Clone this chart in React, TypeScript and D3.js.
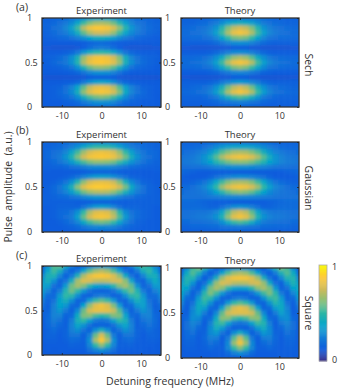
import React, { useEffect, useRef } from "react";
import * as d3 from "d3";

// detuning columns (MHz) and amplitude rows, top row first
const detuning = [-15, -13.5, -12, -10.5, -9, -7.5, -6, -4.5, -3, -1.5, 0, 1.5, 3, 4.5, 6, 7.5, 9, 10.5, 12, 13.5, 15];
const amplitude = [1, 0.944, 0.889, 0.833, 0.778, 0.722, 0.667, 0.611, 0.556, 0.5, 0.444, 0.389, 0.333, 0.278, 0.222, 0.167, 0.111, 0.056, 0];
const xTicks = [-10, 0, 10];
const yTicks = [0, 0.5, 1];
const parula = ["#352a87", "#0f5cdd", "#1481d6", "#06a4ca", "#2eb7a4", "#87bf77", "#d1bb59", "#fec832", "#f9fb0e"];

// values are percent of the colour range
const sechExperiment = [
  [20, 19, 20, 21, 22, 24, 27, 31, 35, 38, 39, 38, 35, 30, 27, 24, 22, 21, 20, 19, 20],
  [20, 20, 21, 23, 26, 31, 40, 51, 60, 65, 66, 64, 58, 48, 38, 30, 25, 23, 21, 20, 20],
  [20, 20, 23, 25, 30, 38, 52, 68, 78, 82, 82, 80, 74, 62, 48, 35, 28, 24, 22, 20, 20],
  [19, 20, 22, 24, 27, 33, 43, 56, 66, 71, 72, 70, 63, 52, 40, 31, 26, 23, 21, 20, 19],
  [18, 19, 20, 21, 22, 24, 28, 33, 39, 43, 44, 42, 37, 31, 26, 23, 21, 20, 19, 18, 18],
  [17, 17, 17, 17, 17, 17, 17, 18, 20, 21, 22, 21, 19, 18, 17, 17, 17, 17, 17, 17, 17],
  [16, 16, 15, 15, 15, 15, 16, 18, 22, 25, 26, 25, 22, 18, 16, 15, 15, 15, 15, 16, 16],
  [17, 18, 18, 18, 19, 21, 26, 35, 44, 49, 50, 48, 42, 33, 25, 21, 19, 18, 18, 18, 17],
  [18, 19, 20, 22, 25, 32, 45, 63, 74, 79, 80, 78, 72, 60, 43, 30, 24, 21, 20, 19, 18],
  [18, 19, 21, 23, 26, 33, 47, 66, 77, 81, 82, 80, 75, 63, 45, 32, 25, 22, 20, 19, 18],
  [18, 18, 19, 20, 22, 25, 33, 46, 57, 62, 63, 61, 55, 44, 32, 24, 21, 20, 19, 18, 18],
  [17, 17, 17, 17, 18, 19, 21, 25, 30, 33, 34, 33, 29, 24, 20, 18, 17, 17, 17, 17, 17],
  [16, 15, 15, 15, 15, 15, 15, 16, 17, 18, 18, 18, 17, 16, 15, 15, 15, 15, 15, 15, 16],
  [17, 17, 17, 17, 18, 19, 21, 26, 33, 38, 40, 38, 32, 25, 21, 19, 18, 17, 17, 17, 17],
  [18, 18, 19, 20, 23, 29, 40, 56, 69, 75, 77, 75, 68, 54, 38, 28, 23, 20, 19, 18, 18],
  [18, 18, 19, 21, 24, 31, 44, 62, 74, 79, 81, 79, 73, 60, 42, 30, 24, 21, 19, 18, 18],
  [17, 18, 19, 20, 22, 25, 32, 43, 53, 58, 60, 58, 52, 42, 31, 24, 21, 20, 19, 18, 17],
  [18, 18, 18, 18, 19, 20, 22, 26, 30, 33, 34, 33, 30, 25, 22, 20, 19, 18, 18, 18, 18],
  [18, 18, 18, 18, 18, 18, 19, 20, 21, 22, 22, 22, 21, 20, 19, 18, 18, 18, 18, 18, 18],
];

const gaussianExperiment = [
  [20, 20, 20, 21, 22, 23, 25, 27, 29, 30, 30, 30, 29, 27, 25, 23, 22, 21, 20, 20, 20],
  [20, 20, 21, 22, 24, 28, 33, 40, 46, 50, 50, 49, 45, 39, 32, 27, 24, 22, 21, 20, 20],
  [20, 21, 23, 25, 30, 40, 52, 64, 73, 77, 78, 77, 73, 63, 50, 38, 29, 25, 22, 21, 20],
  [20, 21, 24, 27, 34, 46, 60, 72, 79, 81, 82, 81, 78, 70, 58, 44, 33, 26, 23, 21, 20],
  [20, 20, 22, 25, 29, 36, 45, 53, 59, 62, 62, 61, 58, 51, 43, 34, 28, 24, 22, 20, 20],
  [19, 19, 20, 20, 21, 23, 25, 27, 30, 31, 31, 31, 29, 27, 24, 22, 21, 20, 19, 19, 19],
  [18, 18, 17, 17, 17, 17, 17, 18, 19, 20, 20, 20, 19, 18, 17, 17, 17, 17, 17, 18, 18],
  [17, 17, 17, 18, 19, 21, 24, 29, 34, 37, 38, 37, 33, 28, 23, 20, 19, 18, 17, 17, 17],
  [18, 18, 19, 21, 25, 33, 47, 62, 72, 76, 77, 76, 71, 60, 45, 31, 24, 20, 19, 18, 18],
  [18, 19, 21, 25, 32, 45, 62, 75, 81, 83, 83, 82, 79, 72, 59, 42, 30, 24, 20, 19, 18],
  [18, 19, 21, 24, 29, 37, 48, 58, 64, 67, 68, 67, 62, 55, 45, 35, 27, 23, 20, 19, 18],
  [19, 19, 20, 21, 22, 24, 26, 30, 33, 35, 35, 35, 32, 28, 25, 23, 21, 20, 19, 19, 19],
  [19, 19, 19, 19, 19, 19, 18, 18, 18, 19, 19, 19, 18, 18, 18, 19, 19, 19, 19, 19, 19],
  [18, 18, 19, 20, 20, 20, 20, 24, 31, 36, 38, 36, 30, 23, 20, 20, 20, 19, 19, 18, 18],
  [18, 18, 19, 21, 22, 25, 33, 50, 66, 74, 76, 74, 65, 48, 31, 24, 22, 20, 19, 18, 18],
  [18, 18, 19, 21, 23, 27, 38, 57, 72, 79, 81, 79, 70, 54, 36, 26, 22, 20, 19, 18, 18],
  [18, 18, 18, 19, 21, 24, 30, 42, 52, 57, 59, 57, 51, 40, 29, 23, 20, 19, 18, 18, 18],
  [18, 18, 18, 18, 19, 20, 22, 25, 28, 30, 31, 30, 28, 25, 22, 20, 19, 18, 18, 18, 18],
  [18, 18, 18, 18, 18, 18, 19, 19, 20, 20, 20, 20, 20, 19, 19, 18, 18, 18, 18, 18, 18],
];

const squareExperiment = [
  [20, 34, 54, 56, 42, 26, 19, 21, 27, 33, 36, 33, 27, 21, 19, 27, 43, 52, 46, 30, 20],
  [22, 40, 52, 44, 26, 19, 25, 40, 56, 64, 68, 64, 54, 38, 23, 18, 26, 43, 50, 38, 22],
  [30, 45, 46, 30, 19, 26, 46, 66, 76, 81, 82, 80, 74, 62, 42, 24, 18, 29, 44, 44, 30],
  [36, 44, 33, 20, 24, 44, 65, 74, 73, 69, 68, 69, 72, 72, 61, 40, 22, 19, 32, 42, 34],
  [38, 37, 23, 20, 36, 58, 65, 60, 48, 39, 37, 39, 48, 60, 65, 56, 33, 20, 23, 36, 36],
  [36, 29, 20, 27, 47, 58, 50, 35, 24, 20, 19, 20, 24, 35, 50, 58, 46, 26, 20, 28, 34],
  [32, 22, 21, 36, 50, 48, 32, 20, 19, 24, 27, 24, 19, 20, 32, 48, 50, 35, 21, 22, 30],
  [26, 20, 24, 39, 44, 32, 20, 21, 37, 51, 56, 51, 36, 21, 20, 32, 44, 38, 24, 20, 26],
  [23, 19, 28, 39, 35, 22, 20, 39, 62, 75, 79, 74, 60, 37, 20, 22, 35, 38, 27, 19, 22],
  [20, 20, 29, 35, 26, 19, 31, 57, 72, 77, 77, 76, 70, 54, 30, 19, 26, 34, 29, 20, 20],
  [19, 21, 29, 29, 20, 22, 42, 60, 61, 53, 49, 52, 60, 59, 40, 22, 20, 28, 29, 21, 19],
  [18, 22, 27, 24, 19, 27, 45, 50, 38, 27, 24, 27, 38, 50, 45, 27, 19, 24, 27, 22, 18],
  [18, 21, 24, 21, 19, 29, 40, 34, 23, 19, 20, 19, 23, 34, 40, 29, 19, 21, 24, 21, 18],
  [18, 20, 22, 19, 20, 28, 32, 24, 20, 33, 45, 33, 20, 24, 32, 28, 20, 19, 22, 20, 18],
  [18, 20, 20, 18, 20, 25, 25, 19, 28, 57, 73, 57, 27, 19, 25, 25, 20, 18, 20, 20, 18],
  [18, 19, 19, 18, 19, 22, 21, 19, 33, 66, 82, 66, 33, 19, 21, 22, 19, 18, 19, 19, 18],
  [17, 18, 18, 18, 18, 20, 19, 19, 30, 50, 62, 50, 30, 19, 19, 20, 18, 18, 18, 18, 17],
  [17, 18, 17, 18, 18, 18, 18, 18, 23, 29, 34, 29, 23, 18, 18, 18, 18, 18, 17, 18, 17],
  [17, 17, 17, 17, 17, 17, 17, 17, 18, 18, 18, 18, 18, 17, 17, 17, 17, 17, 17, 17, 17],
];

// theory is symmetric, rows run from zero detuning outward
const sechTheory = [
  [26, 25, 24, 23, 22, 21, 20, 20, 19, 19, 19],
  [44, 42, 38, 32, 27, 24, 22, 21, 20, 20, 20],
  [72, 69, 60, 47, 34, 28, 25, 23, 22, 21, 21],
  [80, 77, 66, 52, 38, 30, 26, 24, 23, 22, 22],
  [60, 58, 50, 39, 30, 25, 23, 22, 22, 21, 21],
  [33, 32, 29, 25, 22, 20, 19, 19, 19, 19, 19],
  [17, 17, 16, 16, 15, 15, 15, 15, 15, 16, 16],
  [32, 31, 28, 24, 21, 19, 18, 18, 18, 18, 18],
  [66, 63, 55, 42, 32, 26, 23, 22, 21, 21, 21],
  [80, 77, 67, 52, 38, 30, 26, 24, 23, 22, 22],
  [62, 59, 51, 40, 31, 25, 23, 22, 21, 21, 21],
  [30, 29, 26, 23, 20, 19, 18, 18, 18, 18, 18],
  [17, 17, 16, 16, 15, 15, 15, 15, 15, 16, 16],
  [36, 34, 30, 26, 22, 20, 19, 19, 19, 19, 19],
  [72, 68, 58, 44, 33, 26, 23, 22, 21, 20, 20],
  [80, 76, 66, 51, 37, 29, 25, 23, 22, 21, 21],
  [54, 51, 44, 35, 27, 23, 21, 20, 20, 20, 20],
  [28, 27, 25, 23, 21, 20, 19, 19, 19, 19, 19],
  [19, 19, 19, 19, 18, 18, 18, 18, 18, 18, 18],
];

const gaussianTheory = [
  [24, 24, 23, 23, 22, 21, 20, 20, 20, 20, 20],
  [40, 40, 38, 35, 31, 27, 24, 22, 21, 21, 21],
  [66, 65, 60, 54, 44, 35, 29, 26, 24, 23, 22],
  [80, 78, 74, 66, 55, 43, 34, 29, 26, 25, 24],
  [62, 61, 58, 53, 47, 39, 33, 29, 27, 26, 25],
  [32, 32, 31, 30, 29, 27, 25, 24, 24, 23, 23],
  [17, 17, 17, 17, 17, 17, 17, 18, 19, 20, 21],
  [32, 31, 29, 26, 23, 20, 18, 17, 17, 18, 19],
  [66, 65, 60, 52, 41, 31, 25, 22, 20, 19, 19],
  [80, 78, 73, 64, 50, 38, 30, 26, 23, 22, 21],
  [62, 60, 56, 48, 39, 31, 27, 25, 24, 23, 22],
  [30, 30, 29, 28, 27, 26, 25, 24, 24, 24, 24],
  [17, 17, 17, 18, 18, 19, 20, 21, 22, 22, 22],
  [34, 32, 28, 23, 20, 20, 21, 22, 22, 22, 22],
  [72, 68, 56, 40, 30, 26, 25, 25, 24, 23, 23],
  [80, 76, 63, 46, 34, 29, 27, 26, 25, 24, 23],
  [54, 51, 43, 33, 27, 25, 24, 23, 23, 22, 22],
  [26, 25, 24, 23, 22, 22, 21, 21, 21, 20, 20],
  [18, 18, 18, 18, 18, 18, 18, 18, 18, 18, 18],
];

const squareTheory = [
  [36, 33, 27, 20, 18, 28, 45, 58, 52, 31, 18],
  [66, 63, 54, 39, 24, 18, 27, 45, 54, 42, 22],
  [80, 79, 74, 64, 44, 25, 18, 30, 47, 47, 30],
  [67, 68, 72, 73, 63, 42, 23, 19, 34, 46, 37],
  [38, 40, 49, 61, 66, 58, 35, 19, 23, 39, 40],
  [19, 19, 24, 36, 52, 60, 48, 26, 19, 30, 39],
  [27, 24, 19, 20, 33, 49, 52, 36, 20, 22, 35],
  [55, 50, 36, 21, 20, 33, 47, 41, 24, 19, 29],
  [77, 73, 60, 38, 20, 22, 37, 42, 29, 18, 24],
  [75, 75, 71, 56, 31, 18, 27, 38, 31, 19, 20],
  [49, 53, 61, 61, 42, 22, 20, 31, 32, 21, 19],
  [24, 27, 39, 52, 47, 28, 18, 26, 30, 23, 18],
  [20, 18, 23, 36, 43, 31, 19, 21, 27, 23, 18],
  [43, 32, 19, 24, 35, 31, 20, 19, 24, 22, 18],
  [70, 55, 26, 18, 27, 28, 21, 18, 21, 21, 18],
  [79, 63, 31, 18, 22, 24, 20, 18, 20, 20, 18],
  [60, 50, 30, 19, 19, 21, 19, 18, 19, 19, 18],
  [33, 28, 22, 18, 18, 18, 18, 18, 18, 18, 18],
  [18, 18, 18, 18, 18, 18, 18, 18, 18, 18, 18],
];

const mirror = (rows: number[][]) => rows.map((r) => [...r.slice(1).reverse(), ...r]);

const FONT = "'Open Sans', sans-serif";
const INK = "#333";

const colour = d3
  .scaleLinear<string>()
  .domain(parula.map((_, i) => (i / (parula.length - 1)) * 100))
  .range(parula)
  .interpolate(d3.interpolateRgb);

// my readings sit a little high at the blue end, pull the floor down
const level = d3.scaleLinear().domain([15, 18, 82]).range([11, 13, 87]);

type PanelProps = {
  id: string;
  title: string;
  values: number[][];
  left: number;
  right: number;
  top: number;
  bottom: number;
  labelX: number;
};

const Panel = ({ id, title, values, left, right, top, bottom, labelX }: PanelProps) => {
  const axes = useRef<SVGGElement>(null);
  const x = d3.scaleLinear().domain([-15, 15]).range([left, right]);
  const y = d3.scaleLinear().domain([0, 1]).range([bottom, top]);

  useEffect(() => {
    const g = d3.select(axes.current);
    g.selectAll("*").remove();

    const xa = g.append("g").attr("transform", `translate(0,${bottom})`)
      .call(d3.axisBottom(x).tickValues(xTicks).tickSize(-2).tickPadding(6).tickFormat((d) => String(d)));
    const xTop = g.append("g").attr("transform", `translate(0,${top})`)
      .call(d3.axisTop(x).tickValues(xTicks).tickSize(-2).tickFormat(() => ""));
    const ya = g.append("g").attr("transform", `translate(${left},0)`)
      .call(d3.axisLeft(y).tickValues(yTicks).tickSize(-2).tickFormat((d) => String(d)));
    const yRight = g.append("g").attr("transform", `translate(${right},0)`)
      .call(d3.axisRight(y).tickValues(yTicks).tickSize(-2).tickFormat(() => ""));

    [xa, xTop, ya, yRight].forEach((a) => {
      a.select(".domain").remove();
      a.selectAll("line").attr("stroke", "#222").attr("stroke-width", 0.8);
      a.selectAll("text").attr("font-family", FONT).attr("font-size", 9).attr("fill", INK);
    });
    ya.selectAll("text")
      .attr("text-anchor", "start")
      .attr("x", (d: any) => labelX - left + (d === 0.5 ? 0 : 2));
  }, []);

  const rowEdge = (i: number) =>
    i <= 0 ? top - 12 : i >= amplitude.length ? bottom + 12 : y((amplitude[i - 1] + amplitude[i]) / 2);
  const colEdge = (j: number) =>
    j <= 0 ? left - 12 : j >= detuning.length ? right + 12 : x((detuning[j - 1] + detuning[j]) / 2);

  return (
    <g>
      <clipPath id={`clip-${id}`}>
        <rect x={left} y={top} width={right - left} height={bottom - top} />
      </clipPath>
      <g clipPath={`url(#clip-${id})`}>
        <g filter="url(#smear)">
          {values.map((row, i) =>
            row.map((v, j) => (
              <rect
                key={`${i}-${j}`}
                x={colEdge(j)}
                y={rowEdge(i)}
                width={colEdge(j + 1) - colEdge(j) + 0.5}
                height={rowEdge(i + 1) - rowEdge(i) + 0.5}
                fill={colour(level(v))}
              />
            ))
          )}
        </g>
      </g>
      <rect x={left} y={top} width={right - left} height={bottom - top} fill="none" stroke="#333" strokeWidth={1.3} />
      <g ref={axes} />
      <text x={(left + right) / 2} y={top - 4} textAnchor="middle" fontFamily={FONT} fontSize={9.5} fill={INK}>
        {title}
      </text>
    </g>
  );
};

const App = () => {
  const bar = d3.scaleLinear().domain([0, 100]).range([361, 265]);
  const barSteps = d3.range(0, 100, 1);
  return (
    <svg width={339} height={388} style={{ position: "absolute", left: 0, top: 0 }}>
      <defs>
        <filter id="smear" x="-20%" y="-20%" width="140%" height="140%">
          <feGaussianBlur stdDeviation={1.7} />
        </filter>
      </defs>

      <Panel id="a1" title="Experiment" values={sechExperiment} left={42} right={161} top={18} bottom={107} labelX={25} />
      <Panel id="a2" title="Theory" values={mirror(sechTheory)} left={181} right={299} top={18} bottom={107} labelX={163} />
      <Panel id="b1" title="Experiment" values={gaussianExperiment} left={42} right={161} top={142} bottom={232} labelX={25} />
      <Panel id="b2" title="Theory" values={mirror(gaussianTheory)} left={181} right={299} top={142} bottom={232} labelX={163} />
      <Panel id="c1" title="Experiment" values={squareExperiment} left={42} right={161} top={266} bottom={355} labelX={25} />
      <Panel id="c2" title="Theory" values={mirror(squareTheory)} left={181} right={299} top={268} bottom={358} labelX={163} />

      <g fontFamily={FONT} fill={INK} fontSize={10.5}>
        <text x={16} y={11}>(a)</text>
        <text x={16} y={134}>(b)</text>
        <text x={16} y={259}>(c)</text>
      </g>

      <g fontFamily={FONT} fill={INK} fontSize={10.5} textAnchor="middle">
        <text transform="translate(305,65) rotate(90)">Sech</text>
        <text transform="translate(305,188) rotate(90)">Gaussian</text>
        <text transform="translate(305,313) rotate(90)">Square</text>
      </g>

      <text transform="translate(12,187) rotate(-90)" textAnchor="middle" fontFamily={FONT} fontSize={10.5} fill={INK} xmlSpace="preserve">
        Pulse  amplitude  (a.u.)
      </text>
      <text x={170} y={385} textAnchor="middle" fontFamily={FONT} fontSize={10.5} fill={INK}>
        Detuning frequency (MHz)
      </text>

      {barSteps.map((v) => (
        <rect key={v} x={319} y={bar(v + 1)} width={8} height={bar(v) - bar(v + 1) + 0.4} fill={colour(v)} />
      ))}
      <rect x={319} y={265} width={8} height={96} fill="none" stroke="#aaa" strokeWidth={0.8} />
      <g fontFamily={FONT} fontSize={9} fill={INK}>
        <text x={332} y={270}>1</text>
        <text x={332} y={363}>0</text>
      </g>
    </svg>
  );
};

export default App;
